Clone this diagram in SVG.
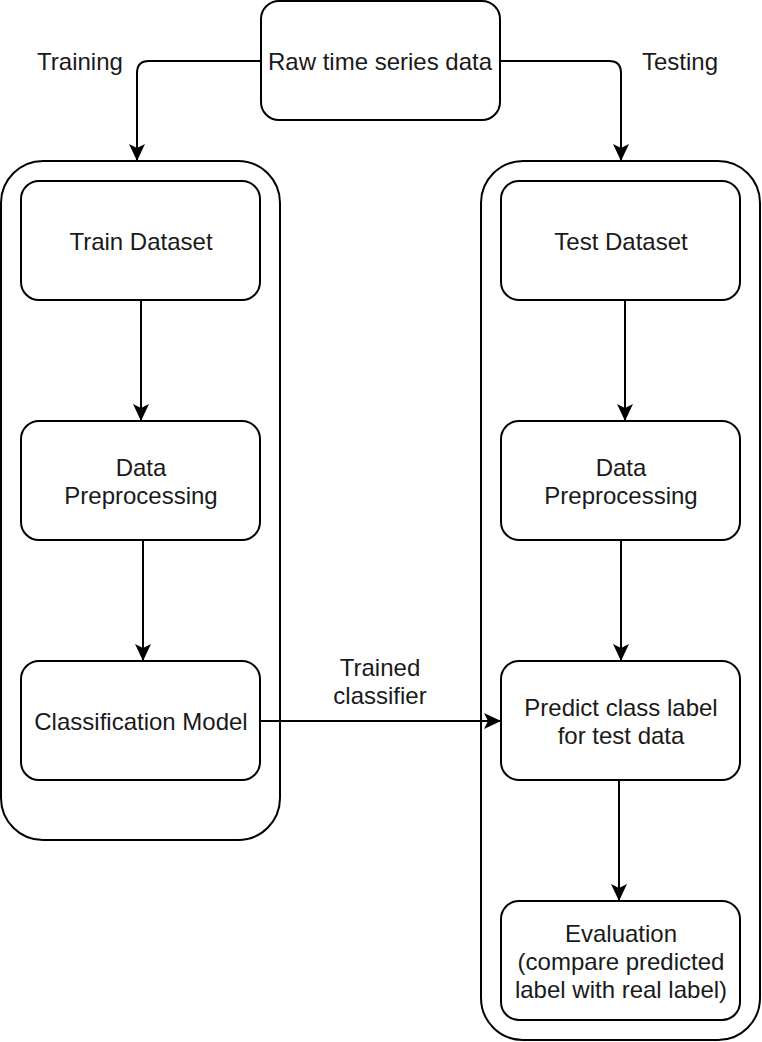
<svg xmlns="http://www.w3.org/2000/svg" width="762" height="1042" viewBox="0 0 762 1042">
<style>
.box{fill:#fff;stroke:#000;stroke-width:2}
.cont{fill:none;stroke:#000;stroke-width:2}
.t{font-family:"Liberation Sans",Arial,sans-serif;font-size:24px;fill:#1a1a1a;text-anchor:middle}
.e{fill:none;stroke:#000;stroke-width:2}
</style>
<defs>
<marker id="arr" markerUnits="userSpaceOnUse" viewBox="-1 -10 20 20" refX="17" refY="0" markerWidth="20" markerHeight="20" orient="auto">
<path d="M0,-8 L17,0 L0,8 L4,0 Z" fill="#000"/>
</marker>
</defs>
<rect width="762" height="1042" fill="#fff"/>
<g id="train-container"><rect class="cont" x="1" y="161" width="279" height="679" rx="42"/></g>
<g id="test-container"><rect class="cont" x="481" y="161" width="279" height="879" rx="42"/></g>
<g id="raw"><rect class="box" x="261" y="1" width="239" height="119" rx="18"/><text class="t" x="380" y="70">Raw time series data</text></g>
<g id="training-label"><text class="t" x="80" y="70">Training</text></g>
<g id="testing-label"><text class="t" x="680" y="70">Testing</text></g>
<g id="train-dataset"><rect class="box" x="21" y="181" width="239" height="119" rx="18"/><text class="t" x="141" y="250">Train Dataset</text></g>
<g id="train-preproc"><rect class="box" x="21" y="421" width="239" height="119" rx="18"/><text class="t" x="141" y="476">Data</text><text class="t" x="141" y="504">Preprocessing</text></g>
<g id="classification"><rect class="box" x="21" y="661" width="239" height="119" rx="18"/><text class="t" x="141" y="730">Classification Model</text></g>
<g id="test-dataset"><rect class="box" x="501" y="181" width="239" height="119" rx="18"/><text class="t" x="621" y="250">Test Dataset</text></g>
<g id="test-preproc"><rect class="box" x="501" y="421" width="239" height="119" rx="18"/><text class="t" x="621" y="476">Data</text><text class="t" x="621" y="504">Preprocessing</text></g>
<g id="predict"><rect class="box" x="501" y="661" width="239" height="119" rx="18"/><text class="t" x="621" y="716">Predict class label</text><text class="t" x="621" y="744">for test data</text></g>
<g id="evaluation"><rect class="box" x="501" y="901" width="239" height="119" rx="18"/><text class="t" x="621" y="942">Evaluation</text><text class="t" x="621" y="970">(compare predicted</text><text class="t" x="621" y="998">label with real label)</text></g>
<g id="edge-label"><text class="t" x="380" y="676">Trained</text><text class="t" x="380" y="704">classifier</text></g>
<g id="connectors">
<path class="e" d="M261,61 H149 Q137,61 137,73 V161" marker-end="url(#arr)"/>
<path class="e" d="M500,61 H609 Q621,61 621,73 V161" marker-end="url(#arr)"/>
<path class="e" d="M141,300 V421" marker-end="url(#arr)"/>
<path class="e" d="M143,540 V661" marker-end="url(#arr)"/>
<path class="e" d="M625,300 V421" marker-end="url(#arr)"/>
<path class="e" d="M621,540 V661" marker-end="url(#arr)"/>
<path class="e" d="M619,780 V901" marker-end="url(#arr)"/>
<path class="e" d="M261,721 H501" marker-end="url(#arr)"/>
</g>
</svg>
